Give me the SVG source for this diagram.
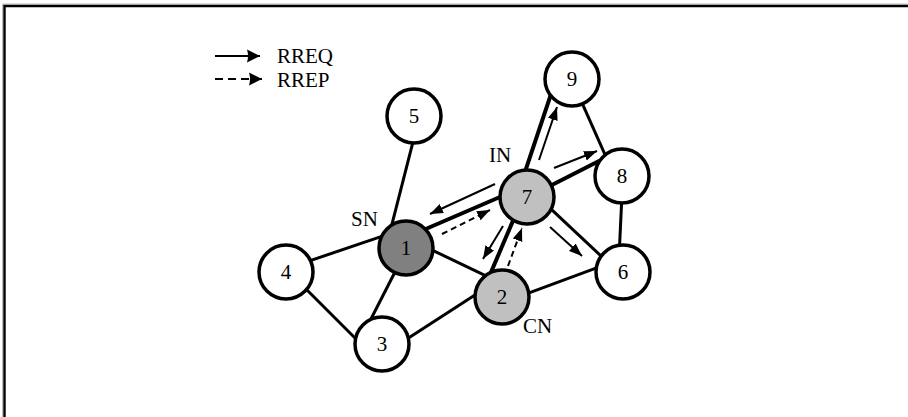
<svg xmlns="http://www.w3.org/2000/svg" width="908" height="417" viewBox="0 0 908 417">
<style>
.e{stroke:#000;stroke-width:3;fill:none}
.et{stroke:#000;stroke-width:4;fill:none}
.a{stroke:#000;stroke-width:2;fill:none;marker-end:url(#ah)}
.la{stroke:#000;stroke-width:2;fill:none;marker-end:url(#lh)}
.d{stroke-dasharray:6 4}
.ld{stroke-dasharray:8 5}
.n{stroke:#000;stroke-width:3.5}
.t{font-family:"Liberation Serif","Times New Roman",serif;font-size:21px;fill:#000}
.c{text-anchor:middle}
</style>
<defs>
<marker id="ah" markerUnits="userSpaceOnUse" markerWidth="14" markerHeight="11" refX="13" refY="5" orient="auto" viewBox="0 0 14 10">
<path d="M0,0 L13,5 L0,10 z" fill="#000"/>
</marker>
<marker id="lh" markerUnits="userSpaceOnUse" markerWidth="14" markerHeight="14" refX="13" refY="6.5" orient="auto" viewBox="0 0 14 13">
<path d="M0,0 L13,6.5 L0,13 Q2,6.5 0,0 z" fill="#000"/>
</marker>
</defs>
<rect width="908" height="417" fill="#fff"/>
<polyline points="2.5,417 2.5,4 908,4" fill="none" stroke="#bbb" stroke-width="1"/>
<polyline points="4.5,417 4.5,6 908,6" fill="none" stroke="#000" stroke-width="2.4"/>
<g id="legend">
<line class="la" x1="215" y1="56" x2="260" y2="56"/>
<text class="t" x="277" y="63">RREQ</text>
<line class="la ld" x1="215" y1="79" x2="262" y2="79"/>
<text class="t" x="277" y="87">RREP</text>
</g>
<g id="connectors">
<line class="e" x1="414.2" y1="137.2" x2="391.8" y2="224.8"/>
<line class="e" x1="307.3" y1="261.6" x2="384.7" y2="235.4"/>
<line class="e" x1="397.3" y1="267.5" x2="369.7" y2="321.5"/>
<line class="e" x1="429.5" y1="248.8" x2="486.5" y2="276.2"/>
<line class="et" x1="423.4" y1="230" x2="504.6" y2="195"/>
<line class="e" x1="304.5" y1="287.5" x2="358.5" y2="341.5"/>
<line class="e" x1="405.8" y1="339.7" x2="479.2" y2="292.3"/>
<line class="et" x1="490" y1="274.6" x2="514" y2="218.4"/>
<line class="e" x1="524.3" y1="294.7" x2="600.7" y2="266.3"/>
<line class="et" x1="523.4" y1="176.7" x2="551.6" y2="92.3"/>
<line class="et" x1="547.5" y1="187.3" x2="599.5" y2="160.7"/>
<line class="e" x1="548.4" y1="206.6" x2="603.6" y2="258.4"/>
<line class="e" x1="580" y1="98.4" x2="605" y2="154.6"/>
<line class="e" x1="622" y1="194" x2="619.5" y2="247"/>
<line class="a" x1="495" y1="184" x2="430" y2="214"/>
<line class="a d" x1="442" y1="234" x2="490" y2="210"/>
<line class="a" x1="503" y1="226" x2="483" y2="259"/>
<line class="a d" x1="508" y1="266" x2="522" y2="228"/>
<line class="a" x1="539" y1="160" x2="557" y2="107"/>
<line class="a" x1="554" y1="168" x2="597" y2="151"/>
<line class="a" x1="550" y1="227" x2="582" y2="256"/>
</g>
<g id="node1"><circle class="n" cx="406" cy="248" r="27" fill="#808080"/><text class="t c" x="406" y="255">1</text></g>
<g id="node2"><circle class="n" cx="502" cy="297" r="27" fill="#c0c0c0"/><text class="t c" x="502" y="304">2</text></g>
<g id="node3"><circle class="n" cx="382" cy="344" r="27" fill="#fff"/><text class="t c" x="382" y="351">3</text></g>
<g id="node4"><circle class="n" cx="286" cy="272" r="27" fill="#fff"/><text class="t c" x="286" y="279">4</text></g>
<g id="node5"><circle class="n" cx="414" cy="116" r="27" fill="#fff"/><text class="t c" x="414" y="123">5</text></g>
<g id="node6"><circle class="n" cx="623" cy="272" r="27" fill="#fff"/><text class="t c" x="623" y="279">6</text></g>
<g id="node7"><circle class="n" cx="527" cy="197" r="27" fill="#c0c0c0"/><text class="t c" x="527" y="204">7</text></g>
<g id="node8"><circle class="n" cx="622" cy="176" r="27" fill="#fff"/><text class="t c" x="622" y="183">8</text></g>
<g id="node9"><circle class="n" cx="572" cy="79" r="27" fill="#fff"/><text class="t c" x="572" y="86">9</text></g>
<g id="labels">
<text class="t" x="489" y="162">IN</text>
<text class="t" x="351" y="226">SN</text>
<text class="t" x="523" y="333">CN</text>
</g>
</svg>
